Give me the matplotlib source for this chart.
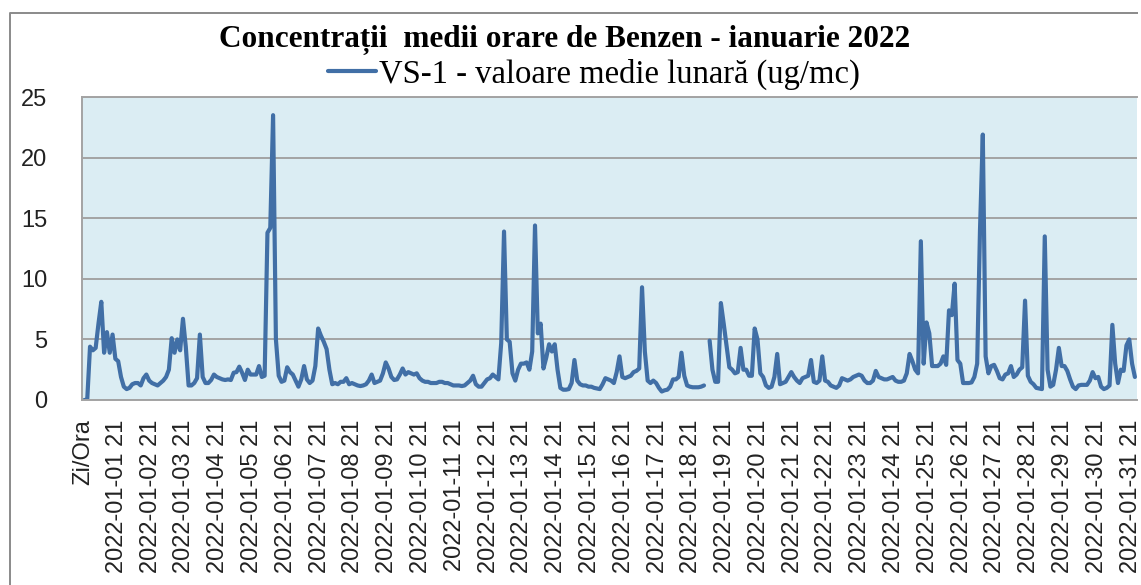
import numpy as np
import matplotlib
matplotlib.use("Agg")
import matplotlib.pyplot as plt
from matplotlib.lines import Line2D

# hourly benzene, sampled every 2 hours (one row = one day on the axis)
benzen = [
    0, 0, 4.4, 4.1, 4.3, 6.3, 8.1, 3.9, 5.6, 3.9, 5.4, 3.4,
    3.2, 1.9, 1.1, 0.9, 1.0, 1.3, 1.4, 1.4, 1.2, 1.8, 2.1, 1.6,
    1.4, 1.3, 1.2, 1.4, 1.6, 1.9, 2.5, 5.1, 3.9, 5.0, 4.1, 6.7,
    4.4, 1.2, 1.2, 1.4, 1.8, 5.4, 1.9, 1.4, 1.4, 1.65, 2.1, 1.9,
    1.8, 1.7, 1.65, 1.7, 1.65, 2.25, 2.3, 2.75, 2.25, 1.65, 2.5, 2.1,
    2.1, 2.1, 2.8, 1.9, 2.0, 13.8, 14.2, 23.5, 5.0, 2.0, 1.5, 1.6,
    2.7, 2.3, 2.1, 1.6, 1.1, 1.7, 2.8, 1.7, 1.4, 1.6, 2.8, 5.9,
    5.3, 4.8, 4.2, 2.5, 1.3, 1.4, 1.3, 1.5, 1.5, 1.8, 1.3, 1.4,
    1.3, 1.2, 1.15, 1.2, 1.3, 1.6, 2.1, 1.4, 1.5, 1.6, 2.2, 3.1,
    2.6, 1.9, 1.65, 1.7, 2.1, 2.6, 2.1, 2.3, 2.2, 2.1, 2.2, 1.8,
    1.6, 1.5, 1.5, 1.4, 1.4, 1.4, 1.5, 1.5, 1.4, 1.4, 1.3, 1.2,
    1.2, 1.2, 1.15, 1.2, 1.4, 1.6, 2.0, 1.3, 1.1, 1.1, 1.4, 1.7,
    1.8, 2.1, 1.9, 1.7, 4.7, 13.9, 5.0, 4.8, 2.2, 1.6, 2.5, 3.0,
    3.0, 3.1, 2.5, 4.0, 14.4, 5.5, 6.3, 2.6, 3.5, 4.6, 4.0, 4.6,
    2.5, 1.0, 0.85, 0.85, 0.9, 1.4, 3.3, 1.6, 1.3, 1.2, 1.2, 1.1,
    1.1, 1.0, 0.95, 0.9, 1.3, 1.8, 1.7, 1.6, 1.4, 2.3, 3.6, 1.9,
    1.8, 1.9, 2.0, 2.3, 2.4, 2.6, 9.3, 4.0, 1.6, 1.4, 1.6, 1.4,
    1.0, 0.7, 0.8, 0.85, 1.1, 1.7, 1.7, 1.9, 3.9, 2.0, 1.2, 1.1,
    1.05, 1.05, 1.05, 1.1, 1.2, np.nan, 4.9, 2.5, 1.5, 1.5, 8.0, 6.3,
    4.5, 2.7, 2.5, 2.2, 2.3, 4.3, 2.5, 2.5, 2.0, 2.0, 5.9, 5.0,
    2.2, 1.9, 1.2, 1.0, 1.1, 1.9, 3.8, 1.3, 1.4, 1.5, 1.9, 2.3,
    1.9, 1.6, 1.4, 1.8, 1.9, 2.0, 3.3, 1.5, 1.4, 1.6, 3.6, 1.6,
    1.5, 1.2, 1.1, 1.0, 1.2, 1.8, 1.7, 1.6, 1.7, 1.9, 2.0, 2.1,
    2.0, 1.6, 1.4, 1.4, 1.6, 2.4, 1.9, 1.8, 1.7, 1.7, 1.8, 1.9,
    1.6, 1.5, 1.5, 1.6, 2.2, 3.8, 3.2, 2.5, 2.2, 13.1, 3.0, 6.4,
    5.5, 2.8, 2.8, 2.8, 3.0, 3.6, 2.9, 7.4, 7.0, 9.6, 3.3, 3.0,
    1.4, 1.4, 1.4, 1.45, 1.9, 3.0, 14.0, 21.9, 3.6, 2.2, 2.8, 2.9,
    2.4, 1.8, 1.7, 2.1, 2.2, 2.8, 1.9, 2.1, 2.5, 2.7, 8.2, 2.0,
    1.5, 1.3, 1.0, 0.95, 0.9, 13.5, 2.5, 1.1, 1.25, 2.5, 4.3, 2.8,
    2.8, 2.4, 1.7, 1.1, 0.9, 1.2, 1.25, 1.25, 1.25, 1.6, 2.3, 1.8,
    1.9, 1.1, 0.9, 1.0, 1.2, 6.2, 3.0, 1.4, 2.5, 2.4, 4.5, 5.0,
    3.0, 1.9,
]
step_h = 2
days = list(range(1, 32))
tick_labels = ["Zi/Ora"] + ["2022-01-%02d 21" % d for d in days]

title = "Concentrații  medii orare de Benzen - ianuarie 2022"
series_name = "VS-1 - valoare medie lunară (ug/mc)"

W, H = 1141, 585
fig = plt.figure(figsize=(W / 100, H / 100), dpi=100)
fig.patch.set_facecolor("white")
fig.patch.set_linewidth(0)

# outer chart frame: only the left and top edges fall inside the picture
fx, fy = 9.5 / W, 1 - 13 / H
fig.add_artist(Line2D([fx, fx, 1138 / W], [0, fy, fy], transform=fig.transFigure,
                      color="#8a8a8a", lw=1.4, solid_capstyle="butt"))

ax = fig.add_axes([82 / W, 1 - 400 / H, (1137 - 82) / W, (400 - 97) / H])
ax.set_facecolor("#DBEDF3")

x = np.arange(len(benzen)) * step_h + 1
ax.plot(x, benzen, color="#416FA6", lw=3.0, solid_joinstyle="round",
        solid_capstyle="round", label=series_name)

ax.set_ylim(0, 25)
ax.set_yticks(range(0, 26, 5))
ax.set_xlim(-0.7, 748.5)
ax.set_xticks(np.arange(0, 24 * len(days) + 1, 24))
ax.set_xticklabels(tick_labels, rotation=90, va="top", ha="center")
ax.yaxis.grid(True, color="#a3a3a3", lw=1.4)
ax.set_axisbelow(True)

for s in ["left", "bottom", "top"]:
    ax.spines[s].set_color("#a3a3a3")
    ax.spines[s].set_linewidth(1.4)
ax.spines["right"].set_visible(False)

ax.tick_params(axis="y", length=0, pad=25, labelsize=17, labelcolor="#222222")
ax.tick_params(axis="x", length=0, pad=14, labelsize=17, labelcolor="#222222")
for lab in ax.get_xticklabels() + ax.get_yticklabels():
    lab.set_family("Liberation Sans")

fig.text(565 / W, 1 - 47 / H, title, ha="center", va="baseline",
         family="Liberation Serif", weight="bold", size=22.5)

leg = fig.legend(loc="center", bbox_to_anchor=(594 / W, 1 - 74 / H), frameon=False,
                 handlelength=1.45, handletextpad=0.1, borderpad=0,
                 prop={"family": "Liberation Serif", "size": 23.5})

fig.savefig("out.png", dpi=100)
